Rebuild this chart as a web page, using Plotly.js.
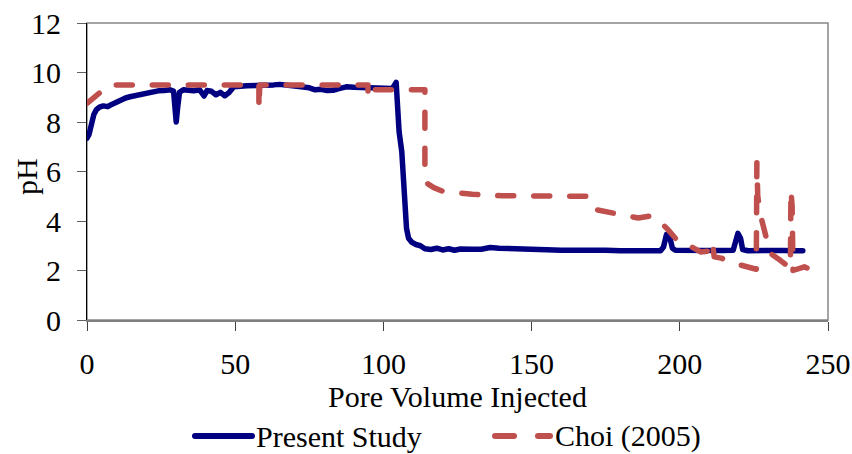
<!DOCTYPE html>
<html>
<head>
<meta charset="utf-8">
<script src="https://cdn.plot.ly/plotly-3.0.1.min.js"></script>
<style>
  html, body { margin: 0; padding: 0; background: #fff; }
  #chart { width: 852px; height: 454px; }
  .scatterlayer .js-line { stroke-linecap: round !important; stroke-linejoin: round !important; }
  .shapelayer path { stroke-linecap: round !important; }
</style>
</head>
<body>
<div id="chart"></div>
<script>
// pH measured in the present column study
const presentX = [0, 0.7, 1.5, 2.3, 3.2, 4.2, 5.5, 7, 8.5, 10, 11.5, 13, 14.5, 16, 18, 20, 22, 24, 26, 28,
  29.2, 29.7, 30.1, 30.6, 31.2, 32.5, 34, 36, 38, 39.5, 40.5, 42, 43.5, 45, 46.5, 48, 49.5, 51.5, 54, 57,
  60, 63, 65, 67, 70, 73, 75, 77, 79, 81, 83, 85, 87.5, 90, 93, 96, 99, 101, 103, 104.3,
  104.8, 105.3, 106.2, 106.8, 107.3, 107.8, 108.5, 109.5, 111, 112.5, 114, 116, 118, 120, 122, 124, 126, 128, 130, 133,
  136, 139, 142, 145, 148, 151, 155, 160, 165, 170, 175, 180, 185, 190, 193.5, 194.5, 195.5, 196.5, 197.5, 198.5,
  202, 206, 210, 214, 218, 218.8, 219.6, 220.5, 221.2, 223, 227, 231, 235, 239, 241.5];
const presentPH = [7.35, 7.5, 7.9, 8.3, 8.5, 8.6, 8.65, 8.62, 8.72, 8.82, 8.9, 8.97, 9.02, 9.06, 9.13, 9.18, 9.22, 9.26, 9.27, 9.3,
  9.25, 8.6, 8.0, 8.6, 9.2, 9.3, 9.28, 9.26, 9.3, 9.05, 9.27, 9.24, 9.1, 9.2, 9.06, 9.2, 9.42, 9.45, 9.46, 9.47,
  9.46, 9.5, 9.52, 9.5, 9.47, 9.45, 9.38, 9.3, 9.32, 9.27, 9.28, 9.35, 9.42, 9.4, 9.38, 9.4, 9.35, 9.38, 9.35, 9.6,
  8.6, 7.6, 6.8, 5.8, 4.5, 3.7, 3.3, 3.15, 3.05, 3.0, 2.88, 2.85, 2.9, 2.83, 2.88, 2.82, 2.87, 2.84, 2.86, 2.86,
  2.93, 2.9, 2.88, 2.9, 2.85, 2.83, 2.84, 2.82, 2.83, 2.81, 2.82, 2.8, 2.81, 2.82, 2.8, 2.95, 3.45, 3.4, 2.9, 2.82,
  2.83, 2.8, 2.82, 2.81, 2.82, 3.1, 3.5, 3.3, 2.85, 2.8, 2.82, 2.8, 2.81, 2.8, 2.8];

// pH reported by Choi (2005)
const choiX = [0, 5.5, 7.5, 58, 58, 58.3, 94.8, 94.8, 95.2, 114, 114, 115, 117, 120, 124, 130, 140, 150, 160, 169.5,
  172, 176, 180, 186, 190, 192, 196, 200, 204, 207, 210.5, 211, 211.6, 214, 218, 222, 225.8, 226, 226.3, 227.3,
  228.5, 230.5, 234, 237.3, 237.5, 237.9, 238.2, 242, 246];
const choiPH = [8.75, 9.3, 9.5, 9.5, 8.55, 9.5, 9.5, 9.0, 9.3, 9.3, 5.8, 5.5, 5.35, 5.2, 5.13, 5.08, 5.02, 5.0, 4.98, 5.0,
  4.45, 4.35, 4.28, 4.12, 4.2, 4.15, 3.65, 3.1, 2.95, 2.75, 2.8, 3.15, 2.55, 2.5, 2.3, 2.2, 2.05, 6.35, 5.0, 4.2,
  3.6, 2.7, 2.4, 2.1, 5.25, 4.6, 2.0, 2.15, 1.95];

const seriesNames = ['Present Study', 'Choi (2005)'];
const xTicks = [0, 50, 100, 150, 200, 250];
const yTicks = [0, 2, 4, 6, 8, 10, 12];
const xTitle = 'Pore Volume Injected';
const yTitle = 'pH';

const BLUE = '#000080';
const RED = '#C0504D';
const FONT = "'Liberation Serif', 'Times New Roman', Times, serif";
const FS = 30;
const textFont = { family: FONT, size: FS, color: '#000' };

const traces = [
  { x: presentX, y: presentPH, name: seriesNames[0], type: 'scatter', mode: 'lines',
    line: { color: BLUE, width: 5.5 } },
  { x: choiX, y: choiPH, name: seriesNames[1], type: 'scatter', mode: 'lines',
    line: { color: RED, width: 5.5, dash: '16px,20px' } }
];

// plot area spans x 87..828 px, y 23..320 px
const L = 87, R = 24, T = 23, B = 134, W = 852, H = 454;
const pw = W - L - R, ph = H - T - B;
const px = v => (v - L) / pw;
const py = v => (H - B - v) / ph;

const legendY = py(436);
const shapes = [
  { type: 'rect', xref: 'paper', yref: 'paper', x0: 0, x1: 1, y0: 0, y1: 1,
    line: { color: '#868686', width: 1.5 }, layer: 'below' },
  { type: 'line', xref: 'paper', yref: 'paper', x0: px(195), x1: px(252), y0: legendY, y1: legendY,
    line: { color: BLUE, width: 6 } },
  { type: 'line', xref: 'paper', yref: 'paper', x0: px(495), x1: px(514), y0: legendY, y1: legendY,
    line: { color: RED, width: 6 } },
  { type: 'line', xref: 'paper', yref: 'paper', x0: px(538), x1: px(550), y0: legendY, y1: legendY,
    line: { color: RED, width: 6 } }
];
const annotations = [
  { xref: 'paper', yref: 'paper', x: px(254), y: legendY, xanchor: 'left', yanchor: 'middle',
    text: seriesNames[0], showarrow: false, font: textFont },
  { xref: 'paper', yref: 'paper', x: px(553), y: legendY, xanchor: 'left', yanchor: 'middle',
    text: seriesNames[1], showarrow: false, font: textFont },
  // vertical axis caption, set close to the tick labels
  { xref: 'paper', yref: 'paper', x: px(26), y: py(177), xanchor: 'center', yanchor: 'middle',
    text: yTitle, textangle: -90, showarrow: false, font: textFont }
];

const layout = {
  width: W, height: H,
  margin: { l: L, r: R, t: T, b: B, pad: 0 },
  paper_bgcolor: '#fff', plot_bgcolor: '#fff',
  showlegend: false,
  font: textFont,
  xaxis: {
    range: [0, 250], tickvals: xTicks, ticktext: xTicks.map(String),
    showgrid: false, zeroline: false,
    showline: true, linecolor: '#7f7f7f', linewidth: 2,
    ticks: 'outside', ticklen: 9, tickcolor: '#404040', tickwidth: 1,
    ticklabelstandoff: 7,
    tickfont: textFont,
    title: { text: xTitle, font: textFont, standoff: 0 }
  },
  yaxis: {
    range: [0, 12], tickvals: yTicks, ticktext: yTicks.map(String),
    showgrid: false, zeroline: false,
    showline: true, linecolor: '#000', linewidth: 1,
    ticks: 'outside', ticklen: 9, tickcolor: '#606060', tickwidth: 1,
    ticklabelstandoff: 10,
    tickfont: textFont
  },
  shapes: shapes,
  annotations: annotations
};

Plotly.newPlot('chart', traces, layout, { displayModeBar: false, staticPlot: true });
</script>
</body>
</html>
